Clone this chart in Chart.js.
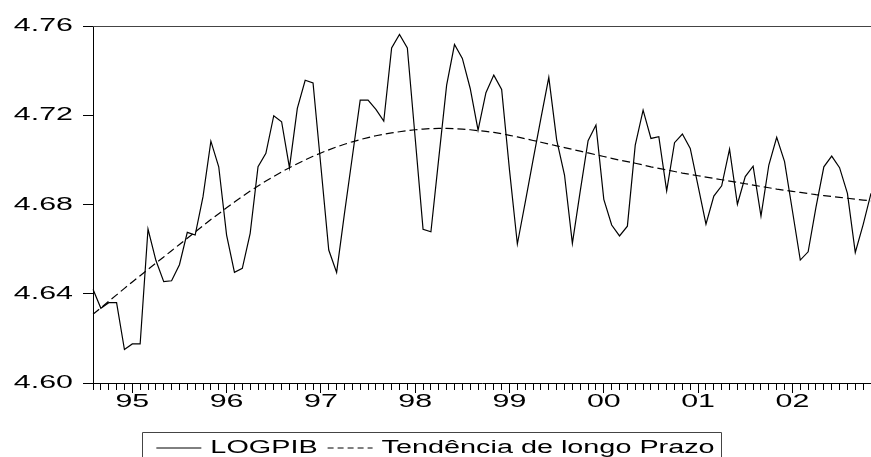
<!DOCTYPE html>
<html>
<head>
<meta charset="utf-8">
<script src="https://cdn.jsdelivr.net/npm/chart.js@4/dist/chart.umd.min.js"></script>
<style>
html,body{margin:0;padding:0;background:#fff;}
#wrap{width:871px;height:457px;position:relative;}
</style>
</head>
<body>
<div id="wrap"><canvas id="c" width="871" height="457"></canvas></div>
<script>
// Monthly observations, 1994:08 .. 2002:11
const startYear = 1994, startMonth = 8, nObs = 100;
const months = [];
for (let k = 0; k < nObs; k++) {
  const m = startMonth - 1 + k;
  months.push((startYear + Math.floor(m / 12)) + ':' + String(m % 12 + 1).padStart(2, '0'));
}
const yearTicks = ['95','96','97','98','99','00','01','02'];
const yTicks = [4.60, 4.64, 4.68, 4.72, 4.76];

const logpib = [
  4.642, 4.6335, 4.636, 4.636, 4.615, 4.6175, 4.6175, 4.669, 4.655, 4.6454,
  4.6458, 4.653, 4.6675, 4.6663, 4.6835, 4.7084, 4.6969, 4.6663, 4.6496, 4.6514,
  4.6671, 4.6969, 4.7029, 4.7198, 4.7171, 4.6965, 4.7231, 4.7357, 4.7345, 4.697,
  4.6596, 4.6496, 4.676, 4.7014, 4.7268, 4.7268, 4.7226, 4.7174, 4.7502, 4.7562,
  4.7502, 4.7097, 4.6689, 4.6678, 4.7008, 4.7335, 4.7517, 4.7455, 4.732, 4.7133,
  4.7301, 4.738, 4.7316, 4.6954, 4.6623, 4.681, 4.70, 4.7187, 4.737, 4.709,
  4.6932, 4.6626, 4.686, 4.7086, 4.7156, 4.6823, 4.6708, 4.6659, 4.6703, 4.7066,
  4.7223, 4.7096, 4.7104, 4.6861, 4.7077, 4.7116, 4.7051, 4.6882, 4.6712, 4.6838,
  4.6884, 4.7048, 4.6801, 4.6925, 4.6972, 4.6748, 4.6977, 4.7101, 4.6992, 4.6772,
  4.6551, 4.6588, 4.6788, 4.6969, 4.7017, 4.6965, 4.685, 4.6585, 4.671, 4.685
];

const tendencia = [
  4.6308, 4.6337, 4.6366, 4.6395, 4.6424, 4.6453, 4.6481, 4.6509, 4.6537, 4.6565,
  4.6593, 4.6621, 4.6649, 4.6677, 4.6705, 4.6733, 4.6759, 4.6785, 4.6811, 4.6836,
  4.6860, 4.6883, 4.6905, 4.6926, 4.6946, 4.6965, 4.6983, 4.7000, 4.7016, 4.7031,
  4.7045, 4.7058, 4.7070, 4.7081, 4.7091, 4.7100, 4.7108, 4.7115, 4.7121, 4.7126,
  4.7131, 4.7135, 4.7138, 4.7140, 4.7141, 4.7141, 4.7140, 4.7138, 4.7135, 4.7131,
  4.7128, 4.7123, 4.7117, 4.7110, 4.7103, 4.7095, 4.7087, 4.7079, 4.7071, 4.7063,
  4.7055, 4.7047, 4.7039, 4.7031, 4.7023, 4.7015, 4.7007, 4.6999, 4.6992, 4.6985,
  4.6977, 4.6969, 4.6962, 4.6955, 4.6948, 4.6941, 4.6935, 4.6929, 4.6923, 4.6917,
  4.6911, 4.6905, 4.6899, 4.6893, 4.6887, 4.6881, 4.6875, 4.6869, 4.6864, 4.6859,
  4.6854, 4.6849, 4.6844, 4.6840, 4.6836, 4.6832, 4.6828, 4.6824, 4.6820, 4.6816
];

const FONT = "'Liberation Sans', Arial, sans-serif";
const FSIZE = 19;
const LSIZE = 18;
const STRETCH = 1.6; // the reference's lettering is drawn horizontally widened

function isJan(idx) { return months[idx] && months[idx].endsWith(':01'); }

const canvas = document.getElementById('c');
const ctx2d = canvas.getContext('2d');
const origFill = ctx2d.fillText.bind(ctx2d);
const origMeasure = ctx2d.measureText.bind(ctx2d);
ctx2d.fillText = function (text, x, y, maxWidth) {
  this.save();
  this.translate(x, y);
  this.scale(STRETCH, 1);
  if (maxWidth === undefined || maxWidth === null) origFill(text, 0, 0);
  else origFill(text, 0, 0, maxWidth / STRETCH);
  this.restore();
};
ctx2d.measureText = function (text) {
  const m = origMeasure(text);
  return {
    width: m.width * STRETCH,
    actualBoundingBoxLeft: m.actualBoundingBoxLeft * STRETCH,
    actualBoundingBoxRight: m.actualBoundingBoxRight * STRETCH,
    actualBoundingBoxAscent: m.actualBoundingBoxAscent,
    actualBoundingBoxDescent: m.actualBoundingBoxDescent,
    fontBoundingBoxAscent: m.fontBoundingBoxAscent,
    fontBoundingBoxDescent: m.fontBoundingBoxDescent
  };
};

const legendDash = [[], [6, 4]];

const framePlugin = {
  id: 'frame',
  afterDraw(chart) {
    const ctx = chart.ctx, a = chart.chartArea;
    ctx.save();
    ctx.strokeStyle = '#444';
    ctx.lineWidth = 1;
    ctx.beginPath();
    ctx.moveTo(a.left, Math.round(a.top) + 0.5);
    ctx.lineTo(a.right, Math.round(a.top) + 0.5);
    ctx.stroke();
    const lg = chart.legend;
    if (lg && lg.legendHitBoxes && lg.legendHitBoxes.length) {
      const hb = lg.legendHitBoxes;
      const first = hb[0], last = hb[hb.length - 1];
      const cy = first.top + first.height / 2;
      const x0 = Math.round(first.left - 14) + 0.5;
      const x1 = Math.round(last.left + last.width + 6) + 0.5;
      const y0 = Math.round(cy - 16) + 0.5;
      ctx.beginPath();
      ctx.moveTo(x0, chart.height + 5);
      ctx.lineTo(x0, y0);
      ctx.lineTo(x1, y0);
      ctx.lineTo(x1, chart.height + 5);
      ctx.stroke();
    }
    ctx.restore();
  }
};

new Chart(canvas, {
  type: 'line',
  data: {
    labels: months,
    datasets: [
      { label: 'LOGPIB', data: logpib, borderColor: '#000', borderWidth: 1.2,
        pointRadius: 0, tension: 0, fill: false },
      { label: 'Tendência de longo Prazo', data: tendencia, borderColor: '#000', borderWidth: 1.2,
        borderDash: [8, 4], pointRadius: 0, tension: 0, fill: false }
    ]
  },
  options: {
    responsive: false,
    animation: false,
    devicePixelRatio: 1,
    layout: { padding: { top: 26, left: 0, right: 0, bottom: -10 } },
    plugins: {
      tooltip: { enabled: false },
      legend: {
        display: true,
        position: 'bottom',
        labels: {
          usePointStyle: true,
          pointStyle: 'line',
          pointStyleWidth: 45,
          padding: 10,
          color: '#000',
          font: { family: FONT, size: LSIZE },
          generateLabels(chart) {
            const items = Chart.defaults.plugins.legend.labels.generateLabels(chart);
            items.forEach((it, i) => {
              it.pointStyle = 'line';
              it.lineDash = legendDash[i] || [];
              it.lineWidth = 1;
              it.strokeStyle = '#000';
              it.fillStyle = '#000';
            });
            return items;
          }
        }
      }
    },
    scales: {
      x: {
        type: 'category',
        offset: false,
        afterFit(s) { s.height = 46; },
        border: { display: true, color: '#000', width: 1 },
        grid: {
          display: true,
          drawOnChartArea: false,
          drawTicks: true,
          tickLength: 10,
          tickColor: '#000',
          tickWidth: 1,
          tickBorderDash: (ctx) => isJan(ctx.index) ? [] : [6, 100]
        },
        ticks: {
          autoSkip: false,
          maxRotation: 0,
          minRotation: 0,
          padding: -3,
          color: '#000',
          font: { family: FONT, size: FSIZE },
          callback: (v, idx) => {
            if (!isJan(idx)) return '';
            const y = parseInt(months[idx].slice(0, 4), 10);
            return yearTicks[y - 1995];
          }
        }
      },
      y: {
        min: yTicks[0],
        max: yTicks[yTicks.length - 1],
        afterFit(s) { s.width = 93; },
        afterBuildTicks(s) { s.ticks = yTicks.map(v => ({ value: v })); },
        border: { display: true, color: '#000', width: 1 },
        grid: {
          display: true,
          drawOnChartArea: false,
          tickLength: 10,
          tickColor: '#000'
        },
        ticks: {
          padding: 10,
          color: '#000',
          font: { family: FONT, size: FSIZE },
          callback: (v) => Number(v).toFixed(2)
        }
      }
    }
  },
  plugins: [framePlugin]
});
</script>
</body>
</html>
